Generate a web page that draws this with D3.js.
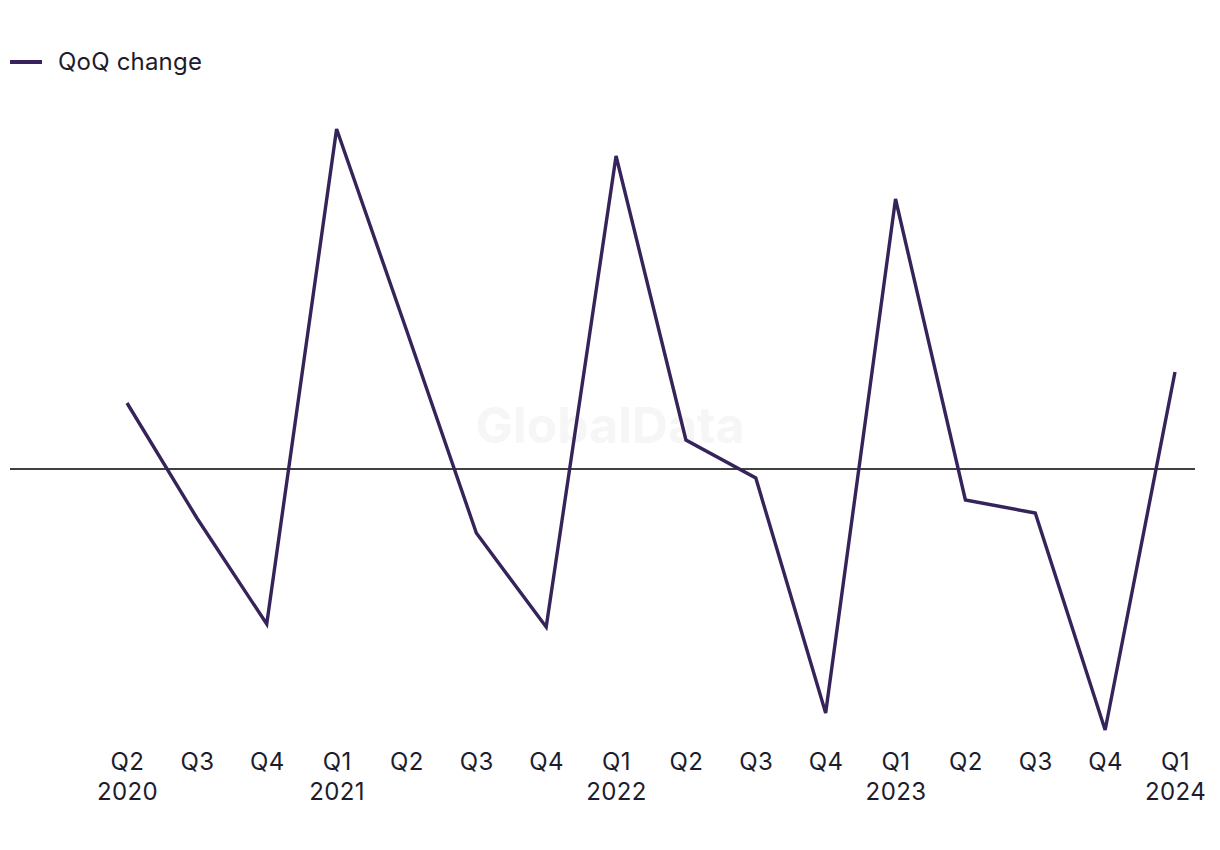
<!DOCTYPE html>
<html>
<head>
<meta charset="utf-8">
<script src="https://cdn.jsdelivr.net/npm/d3@7"></script>
<style>
html,body{margin:0;padding:0;background:#fff;}
svg{display:block;font-family:Inter, "Noto Sans", sans-serif;}
</style>
</head>
<body>
<svg id="chart" width="1220" height="850"></svg>
<script>
const quarters = ["Q2","Q3","Q4","Q1","Q2","Q3","Q4","Q1","Q2","Q3","Q4","Q1","Q2","Q3","Q4","Q1"];
const years = ["2020","","","2021","","","","2022","","","","2023","","","","2024"];
const qoqChange = [3.3,-2.45,-7.75,17.0,6.95,-3.2,-7.9,15.65,1.45,-0.45,-12.2,13.5,-1.55,-2.2,-13.05,4.85];
const seriesName = "QoQ change";

const svg = d3.select("#chart");
const idx = quarters.map((d,i)=>i);
const x = d3.scalePoint().domain(idx).range([127,1175]);
const y = d3.scaleLinear().domain([0,17]).range([469,129]);
const lineColor = "#35235a";
const textColor = "#1c1c2e";

// watermark
svg.append("text").attr("x",610).attr("y",443).attr("text-anchor","middle")
  .attr("font-size",50).attr("font-weight",700).attr("fill","#f6f6f6")
  .attr("font-family","Inter, Roboto, sans-serif").text("GlobalData");

// zero line
svg.append("line").attr("x1",10).attr("x2",1195).attr("y1",y(0)).attr("y2",y(0))
  .attr("stroke","#000").attr("stroke-width",1.6);

// series line
svg.append("path").datum(qoqChange)
  .attr("d", d3.line().x((d,i)=>x(i)).y(d=>y(d)))
  .attr("fill","none").attr("stroke",lineColor).attr("stroke-width",3.4)
  .attr("stroke-linejoin","miter");

// x axis labels
const axis = d3.axisBottom(x).tickSize(0).tickFormat(i=>quarters[i]);
const g = svg.append("g").attr("transform","translate(0,753)").call(axis);
g.select(".domain").remove();
g.selectAll(".tick text").attr("font-size",24).attr("fill",textColor)
  .attr("font-family","Inter, Roboto, sans-serif").attr("letter-spacing","0.4px")
  .each(function(i){
    const t = d3.select(this);
    t.text(null);
    t.append("tspan").attr("x",0).attr("dy","0.71em").text(quarters[i]);
    if(years[i]) t.append("tspan").attr("x",0).attr("dy","1.25em").text(years[i]);
  });
g.selectAll(".tick text").attr("dy",null).attr("y",0);

// legend
svg.append("line").attr("x1",10).attr("x2",42).attr("y1",62).attr("y2",62)
  .attr("stroke",lineColor).attr("stroke-width",4);
svg.append("text").attr("x",58).attr("y",70).attr("font-size",24).attr("fill",textColor)
  .attr("letter-spacing","0.2px").text(seriesName);
</script>
</body>
</html>
